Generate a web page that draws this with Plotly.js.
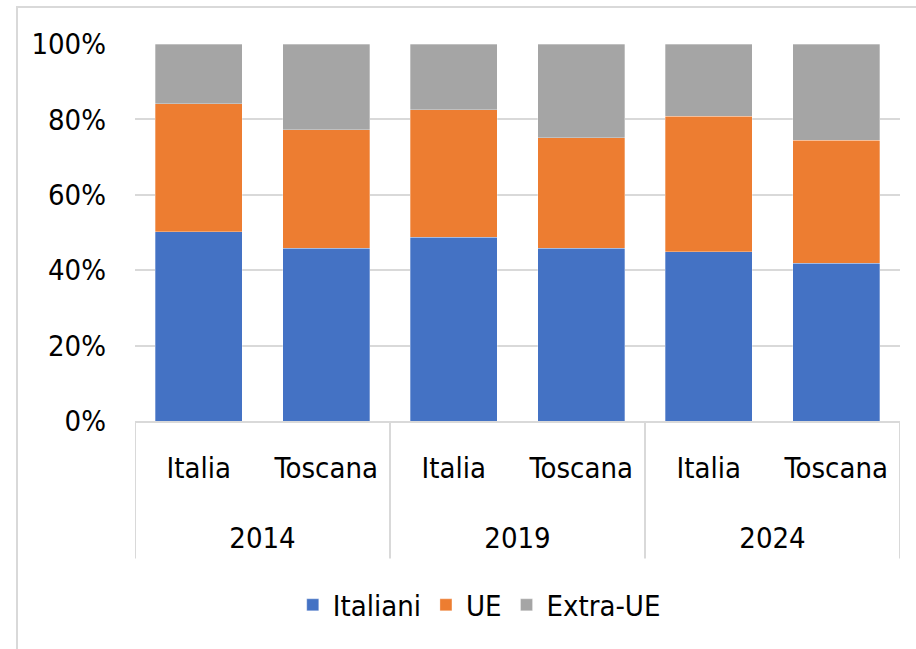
<!DOCTYPE html>
<html>
<head>
<meta charset="utf-8">
<script src="https://cdn.plot.ly/plotly-3.0.1.min.js"></script>
<style>
html,body{margin:0;padding:0;background:#fff;}
#wrap{position:relative;width:916px;height:649px;overflow:hidden;}
#frame{position:absolute;left:16px;top:6px;width:1000px;height:800px;border-left:2px solid #d9d9d9;border-top:2px solid #d9d9d9;pointer-events:none;}
#chart{position:absolute;left:0;top:0;width:916px;height:649px;}
</style>
</head>
<body>
<div id="wrap">
<div id="chart"></div>
<div id="frame"></div>
</div>
<script>
var years = ['2014','2014','2019','2019','2024','2024'];
var areas = ['Italia','Toscana','Italia','Toscana','Italia','Toscana'];
var italiani = [50.2, 45.8, 48.8, 45.8, 44.9, 41.8];
var ue = [34.0, 31.5, 33.8, 29.3, 36.0, 32.7];
var extraUE = [15.8, 22.7, 17.4, 24.9, 19.1, 25.5];
var seriesNames = ['Italiani','UE','Extra-UE'];
var colors = ['#4472C4','#ED7D31','#A5A5A5'];
var yTicks = [0,20,40,60,80,100];
var yTickText = ['0%','20%','40%','60%','80%','100%'];

var FONT = '"Liberation Sans Narrow", "Arial Narrow", "DejaVu Sans Condensed", sans-serif';
var idx = areas.map(function(_, i){ return i; });

// group structure from years
var groupNames = [], groupCenters = [], boundaries = [-0.5];
years.forEach(function(y, i){
  if (groupNames.indexOf(y) === -1) groupNames.push(y);
  if (i > 0 && years[i-1] !== y) boundaries.push(i - 0.5);
});
boundaries.push(years.length - 0.5);
groupNames.forEach(function(g){
  var ii = idx.filter(function(i){ return years[i] === g; });
  groupCenters.push((ii[0] + ii[ii.length-1]) / 2);
});

var vals = [italiani, ue, extraUE];
var traces = vals.map(function(v,i){
  return {
    type:'bar',
    x:idx,
    y:v,
    name:seriesNames[i],
    marker:{color:colors[i], line:{color:'rgba(255,255,255,0.6)', width:0.5}},
    hoverinfo:'skip'
  };
});
// empty helper trace to host the year axis
traces.push({type:'scatter', x:[], y:[], xaxis:'x2', showlegend:false, hoverinfo:'skip'});

var shapes = boundaries.map(function(b){
  return {type:'line', xref:'x', yref:'paper', x0:b, x1:b, y0:0, y1:-0.365,
          line:{color:'#d9d9d9', width:2}};
});

var xr = [-0.5, years.length - 0.5];
var layout = {
  width:916, height:649,
  barmode:'stack',
  bargap:0.32,
  margin:{l:135, r:16, t:44, b:228},
  paper_bgcolor:'#fff', plot_bgcolor:'#fff',
  font:{family:FONT, size:29, color:'#000'},
  xaxis:{
    range:xr, tickvals:idx, ticktext:areas,
    showline:true, linecolor:'#d9d9d9', linewidth:2,
    showgrid:false, zeroline:false, ticks:'',
    tickfont:{family:FONT, size:29, color:'#000'},
    ticklabelstandoff:20
  },
  xaxis2:{
    overlaying:'x', anchor:'y', side:'bottom',
    range:xr, tickvals:groupCenters, ticktext:groupNames,
    showline:false, showgrid:false, zeroline:false, ticks:'',
    tickfont:{family:FONT, size:29, color:'#000'},
    ticklabelstandoff:97
  },
  yaxis:{
    range:[0,100], tickvals:yTicks, ticktext:yTickText,
    showgrid:true, gridcolor:'#d9d9d9', gridwidth:2,
    zeroline:false, showline:false, ticks:'',
    tickfont:{family:FONT, size:29, color:'#000'},
    ticklabelstandoff:28
  },
  shapes:shapes,
  showlegend:true,
  legend:{orientation:'h', x:0.45, xanchor:'center', y:-0.488, yanchor:'middle',
    font:{family:FONT, size:29, color:'#000'}, itemwidth:20, tracegroupgap:0, traceorder:'normal'}
};
Plotly.newPlot('chart', traces, layout, {displayModeBar:false, staticPlot:true});
</script>
</body>
</html>
